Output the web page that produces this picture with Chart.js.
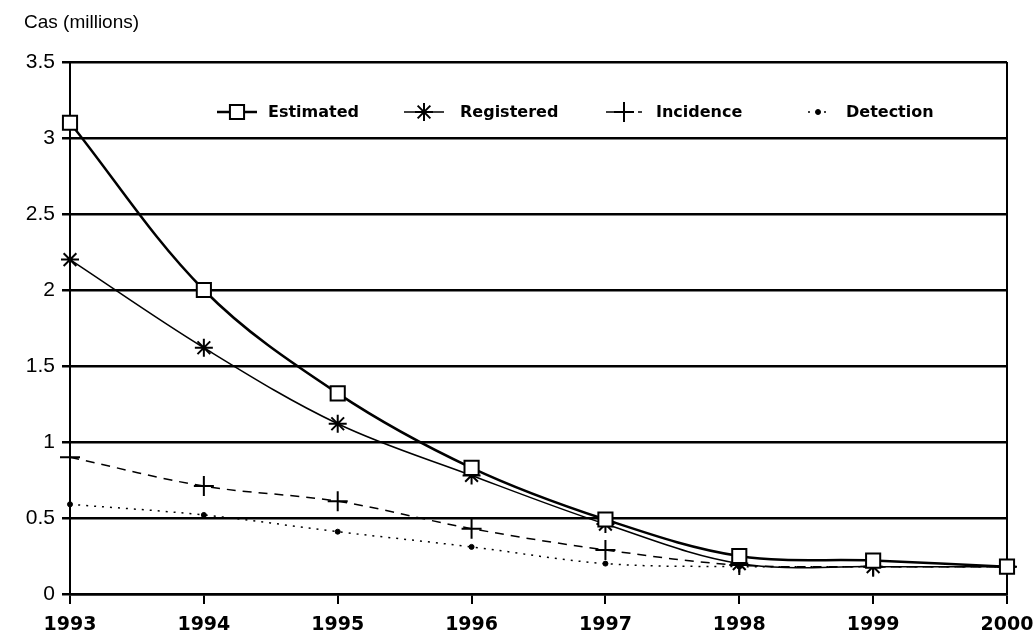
<!DOCTYPE html>
<html>
<head>
<meta charset="utf-8">
<script src="https://cdn.jsdelivr.net/npm/chart.js@4.4.1/dist/chart.umd.min.js"></script>
<style>
  html, body { margin: 0; padding: 0; background: #fff; }
  #chart { display: block; }
</style>
</head>
<body>
<canvas id="chart" width="1036" height="637"></canvas>
<script>
// données (millions de cas)
const years = ['1993', '1994', '1995', '1996', '1997', '1998', '1999', '2000'];
const estimated  = [3.1, 2.0, 1.32, 0.83, 0.49, 0.25, 0.22, 0.18];
const registered = [2.2, 1.62, 1.12, 0.78, 0.46, 0.2, 0.18, 0.18];
const incidence  = [0.9, 0.71, 0.61, 0.43, 0.29, 0.19, 0.18, 0.18];
const detection  = [0.59, 0.52, 0.41, 0.31, 0.2, 0.18, 0.18, 0.18];
const yTicks = [0, 0.5, 1, 1.5, 2, 2.5, 3, 3.5];
const yTitle = 'Cas (millions)';

// légende dessinée dans la zone du graphique
const legendSpots = [
    { cx: 237, tx: 268, half: 20 },
    { cx: 424, tx: 460, half: 20 },
    { cx: 624, tx: 656, half: 18 },
    { cx: 818, tx: 846, half: 10 }
];

const inlineLegend = {
    id: 'inlineLegend',
    afterDraw(chart) {
        const ctx = chart.ctx;
        const y = 112;
        chart.data.datasets.forEach((ds, i) => {
            const s = legendSpots[i];
            ctx.save();
            ctx.strokeStyle = '#000';
            ctx.lineWidth = ds.borderWidth;
            ctx.setLineDash(ds.borderDash || []);
            ctx.beginPath();
            ctx.moveTo(s.cx - s.half, y);
            ctx.lineTo(s.cx + s.half, y);
            ctx.stroke();
            ctx.setLineDash([]);
            ctx.fillStyle = ds.pointBackgroundColor;
            ctx.strokeStyle = '#000';
            ctx.lineWidth = ds.pointBorderWidth;
            Chart.helpers.drawPoint(ctx, {
                pointStyle: ds.pointStyle,
                rotation: 0,
                radius: ds.pointRadius,
                borderWidth: ds.pointBorderWidth
            }, s.cx, y);
            ctx.fillStyle = '#000';
            ctx.font = 'bold 16px "DejaVu Sans"';
            ctx.textBaseline = 'middle';
            ctx.fillText(ds.label, s.tx, y + 1);
            ctx.restore();
        });
    }
};

const axisTitle = {
    id: 'axisTitle',
    afterDraw(chart) {
        const ctx = chart.ctx;
        ctx.save();
        ctx.fillStyle = '#000';
        ctx.font = '19px "Liberation Sans"';
        ctx.textBaseline = 'middle';
        ctx.fillText(yTitle, 24, 23);
        ctx.restore();
    }
};

new Chart(document.getElementById('chart'), {
    type: 'line',
    data: {
        labels: years,
        datasets: [
            {
                label: 'Estimated',
                data: estimated,
                borderColor: '#000',
                borderWidth: 2.5,
                pointStyle: 'rect',
                pointRadius: 10,
                pointBorderWidth: 2,
                pointBorderColor: '#000',
                pointBackgroundColor: '#fff',
                tension: 0.35
            },
            {
                label: 'Registered',
                data: registered,
                borderColor: '#000',
                borderWidth: 1.5,
                pointStyle: 'star',
                pointRadius: 9,
                pointBorderWidth: 2,
                pointBorderColor: '#000',
                pointBackgroundColor: '#000',
                tension: 0.35
            },
            {
                label: 'Incidence',
                data: incidence,
                borderColor: '#000',
                borderWidth: 1.5,
                borderDash: [9, 7],
                pointStyle: 'cross',
                pointRadius: 10,
                pointBorderWidth: 2,
                pointBorderColor: '#000',
                pointBackgroundColor: '#000',
                tension: 0.35
            },
            {
                label: 'Detection',
                data: detection,
                borderColor: '#000',
                borderWidth: 1.5,
                borderDash: [2, 6],
                pointStyle: 'circle',
                pointRadius: 2.5,
                pointBorderWidth: 1,
                pointBorderColor: '#000',
                pointBackgroundColor: '#000',
                tension: 0.35
            }
        ]
    },
    options: {
        responsive: false,
        animation: false,
        layout: { padding: { top: 62, right: 29, left: 0, bottom: 0 } },
        plugins: {
            legend: { display: false },
            tooltip: { enabled: false }
        },
        scales: {
            x: {
                type: 'category',
                offset: false,
                afterFit: (axis) => {
                    axis.height = 43;
                    axis.paddingLeft = 0;
                    axis.paddingRight = 0;
                },
                border: { display: true, color: '#000', width: 2.5 },
                grid: {
                    color: (c) => (c.index === 0 || c.index === years.length - 1) ? '#000' : 'rgba(0,0,0,0)',
                    lineWidth: 2,
                    tickColor: '#000',
                    tickWidth: 2,
                    tickLength: 10,
                    drawTicks: true
                },
                ticks: {
                    color: '#000',
                    padding: 10,
                    maxRotation: 0,
                    autoSkip: false,
                    font: { family: '"DejaVu Sans"', size: 19, weight: 'bold' }
                }
            },
            y: {
                min: 0,
                max: 3.5,
                afterFit: (axis) => { axis.width = 70; },
                afterBuildTicks: (axis) => { axis.ticks = yTicks.map(v => ({ value: v })); },
                border: { display: true, color: '#000', width: 2 },
                grid: {
                    color: '#000',
                    lineWidth: 2.5,
                    tickColor: '#000',
                    tickLength: 8
                },
                ticks: {
                    color: '#000',
                    padding: 7,
                    callback: (v) => String(v),
                    font: { family: '"Liberation Sans"', size: 21 }
                }
            }
        }
    },
    plugins: [inlineLegend, axisTitle]
});
</script>
</body>
</html>
